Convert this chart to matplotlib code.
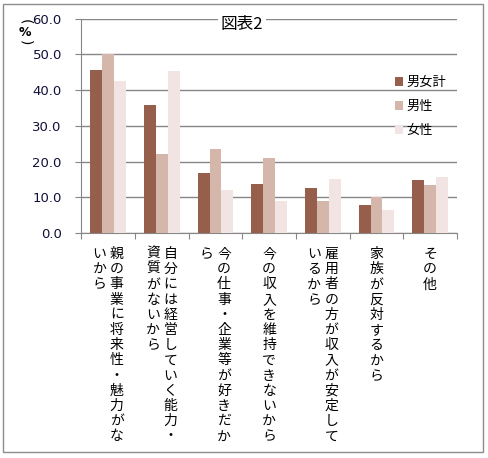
import matplotlib
matplotlib.use("Agg")
import matplotlib.pyplot as plt
import matplotlib.transforms as mtransforms
from matplotlib.patches import Rectangle
import numpy as np

plt.rcParams["font.family"] = ["Noto Sans CJK JP", "DejaVu Sans"]

CATEGORIES = [
    "親の事業に将来性・魅力がないから",
    "自分には経営していく能力・資質がないから",
    "今の仕事・企業等が好きだから",
    "今の収入を維持できないから",
    "雇用者の方が収入が安定しているから",
    "家族が反対するから",
    "その他",
]
SERIES_NAMES = ["男女計", "男性", "女性"]
TOTAL = [45.7, 35.9, 16.8, 13.7, 12.6, 7.8, 14.8]
MALE = [50.1, 22.1, 23.5, 21.0, 9.0, 10.1, 13.4]
FEMALE = [42.6, 45.4, 12.0, 9.0, 15.1, 6.4, 15.7]
COLORS = ["#955F4C", "#D4B6AA", "#F2E4E2"]
TITLE = "図表2"
Y_TICKS = [0, 10, 20, 30, 40, 50, 60]

CHARS_PER_COLUMN = 13
DPI = 100
W, H = 488, 458


def main():
    fig = plt.figure(figsize=(W / DPI, H / DPI), dpi=DPI)
    ax = fig.add_axes([81.3 / W, 1 - 233 / H, (457 - 81.3) / W, (233 - 18.7) / H])

    x = np.arange(len(CATEGORIES))
    bar_w = 0.22
    for k, (vals, name) in enumerate(zip([TOTAL, MALE, FEMALE], SERIES_NAMES)):
        ax.bar(x + (k - 1) * bar_w, vals, width=bar_w, color=COLORS[k],
               label=name, zorder=3)

    ax.set_xlim(-0.5, len(CATEGORIES) - 0.5)
    ax.set_ylim(0, 60)
    ax.set_yticks(Y_TICKS)
    ax.set_yticklabels([f"{v:.1f}" for v in Y_TICKS], family="DejaVu Sans",
                       fontsize=9.5, color="#10103a")
    ax.grid(axis="y", color="#868686", linewidth=1, zorder=0)
    ax.set_axisbelow(True)
    ax.set_xticks(np.arange(-0.5, len(CATEGORIES), 1.0))
    ax.set_xticklabels([])
    ax.tick_params(axis="y", direction="out", length=4, color="#868686", pad=10)
    ax.tick_params(axis="x", direction="out", length=4, color="#868686")
    for side in ["top", "right"]:
        ax.spines[side].set_visible(False)
    for side in ["left", "bottom"]:
        ax.spines[side].set_color("#868686")

    # vertical category labels, columns run right to left
    trans = mtransforms.blended_transform_factory(ax.transData, ax.transAxes)
    col_gap = 0.16
    pitch = 15.2 * 72 / DPI
    first = 21 * 72 / DPI
    for i, label in enumerate(CATEGORIES):
        cols = [label[j:j + CHARS_PER_COLUMN]
                for j in range(0, len(label), CHARS_PER_COLUMN)]
        n = len(cols)
        for c, col in enumerate(cols):
            cx = i + ((n - 1) / 2 - c) * 2 * col_gap
            for r, ch in enumerate(col):
                ax.annotate(ch, xy=(cx, 0), xycoords=trans,
                            xytext=(0, -first - r * pitch), textcoords="offset points",
                            ha="center", va="center", fontsize=10, color="black",
                            annotation_clip=False)

    ax.legend(loc="upper left", bbox_to_anchor=(395 / W, 1 - 76 / H),
              bbox_transform=fig.transFigure, frameon=False, fontsize=9.5,
              handlelength=0.6, handleheight=0.6, handletextpad=0.25,
              labelspacing=0.85, borderpad=0, borderaxespad=0)

    fig.text(242 / W, 1 - 25 / H, TITLE, ha="center", va="center", fontsize=12,
             bbox=dict(facecolor="white", edgecolor="none", pad=2))

    # vertical "(%)" unit label
    fig.text(25 / W, 1 - 22 / H, "(", rotation=270, ha="center", va="center",
             fontsize=10, family="DejaVu Sans")
    fig.text(25 / W, 1 - 32 / H, "%", ha="center", va="center",
             fontsize=9, fontweight="bold", family="DejaVu Sans")
    fig.text(25 / W, 1 - 43 / H, ")", rotation=270, ha="center", va="center",
             fontsize=10, family="DejaVu Sans")

    fig.add_artist(Rectangle((3 / W, 1 - 452 / H), 480 / W, 448 / H,
                             transform=fig.transFigure, fill=False,
                             edgecolor="#8c8c8c", linewidth=1))

    fig.savefig("out.png", dpi=DPI)


if __name__ == "__main__":
    main()
